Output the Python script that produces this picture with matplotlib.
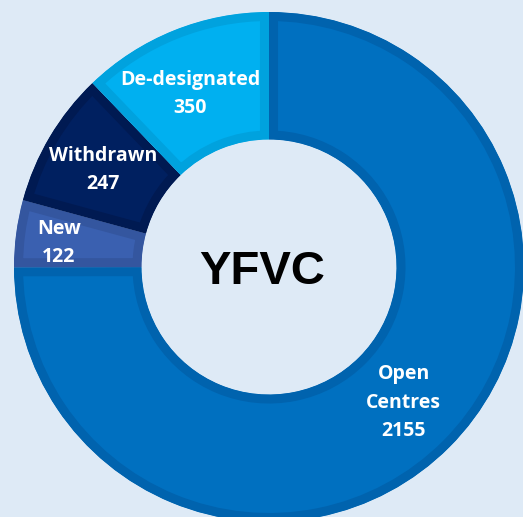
import matplotlib.pyplot as plt
import numpy as np

categories = ['Open\nCentres', 'New', 'Withdrawn', 'De-designated']
values = [2155, 122, 247, 350]
fill_colors = ['#0070C0', '#3A60B0', '#002060', '#00B0F0']
edge_colors = ['#0063AE', '#34569F', '#001A52', '#00A2DE']
label_radius = [0.75, 0.83, 0.754, 0.746]
label_angle_shift = [-0.2, 1.1, 0.4, 2.6]
center_title = 'YFVC'

W, H = 523, 517
cx, cy, R = 269, 267, 255

fig = plt.figure(figsize=(W / 100, H / 100), dpi=100)
fig.patch.set_facecolor('#DEEAF6')
ax = fig.add_axes([0, 0, 1, 1])
ax.set_facecolor('#DEEAF6')

wedges, _ = ax.pie(values, colors=fill_colors, startangle=90, counterclock=False,
                   radius=1, wedgeprops=dict(width=0.5))
for w, ec in zip(wedges, edge_colors):
    w.set_edgecolor(ec)
    w.set_linewidth(13)
    w.set_clip_on(True)
    w.set_clip_path(w)

for w, cat, val, r, sh in zip(wedges, categories, values, label_radius, label_angle_shift):
    th = np.deg2rad((w.theta1 + w.theta2) / 2 + sh)
    ax.text(r * np.cos(th), r * np.sin(th), f'{cat}\n{val}', ha='center', va='center',
            color='white', fontsize=14, fontweight='bold', family='Open Sans',
            linespacing=1.56)

ax.text(-0.027, -0.02, center_title, ha='center', va='center', fontsize=34,
        fontweight='bold', family='Liberation Sans', color='black')

ax.set_xlim(-cx / R, (W - cx) / R)
ax.set_ylim(-(H - cy) / R, cy / R)
ax.set_aspect('auto')
ax.axis('off')
fig.savefig('out.png', dpi=100, facecolor=fig.get_facecolor())
